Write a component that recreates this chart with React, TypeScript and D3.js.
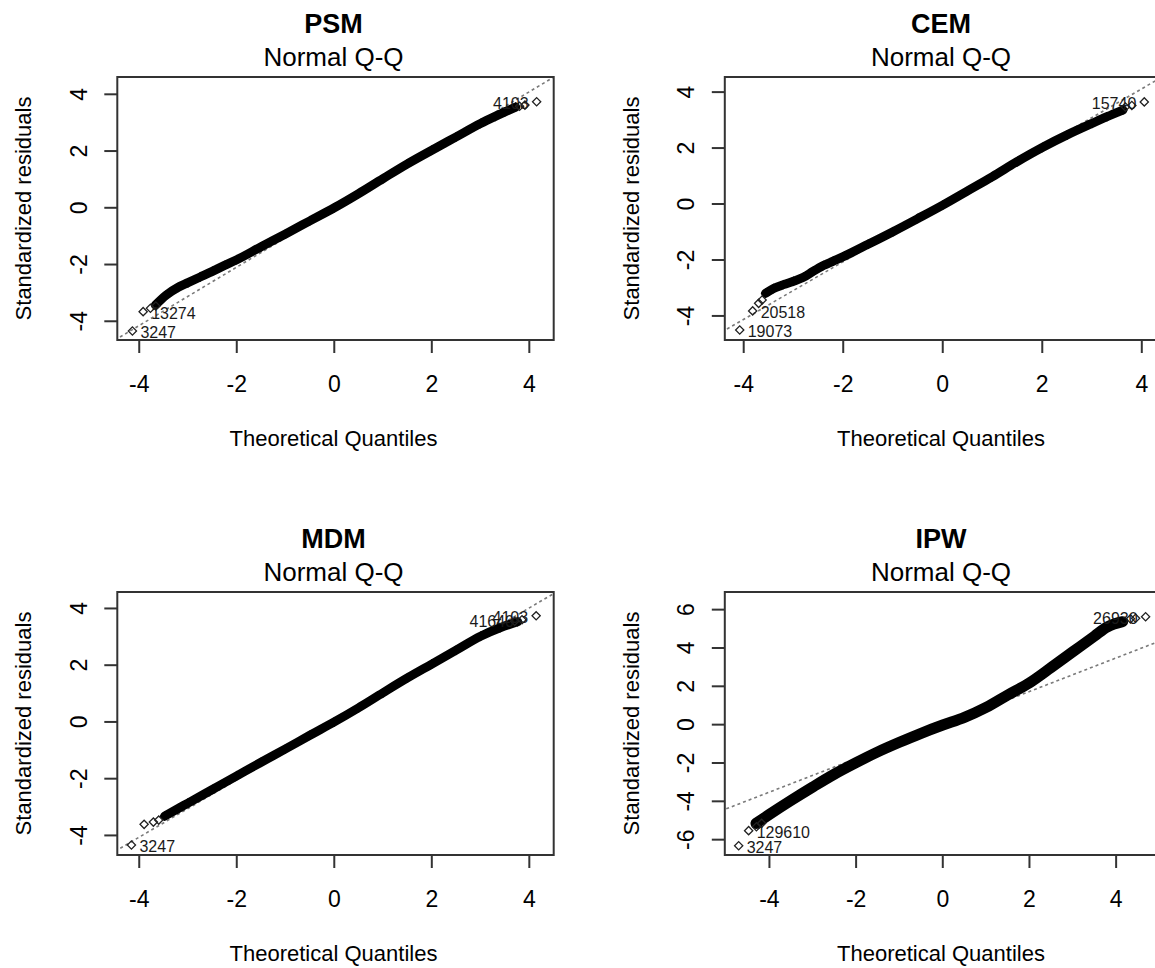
import React from "react";
import * as d3 from "d3";

// ---------------- data ----------------
const panelTitles = ["PSM", "CEM", "MDM", "IPW"];
const captionText = "Normal Q-Q";
const xLabelText = "Theoretical Quantiles";
const yLabelText = "Standardized residuals";
const xTickValues = [-4, -2, 0, 2, 4];
const yTicksStd = [-4, -2, 0, 2, 4];
const yTicksIPW = [-6, -4, -2, 0, 2, 4, 6];

// bulk of the residuals (dense band), theoretical quantile vs standardized residual
const psmTheo = [-3.67, -3.45, -3.2, -3.0, -2.75, -2.5, -2.25, -2.0, -1.5, -1.0, -0.5, 0, 0.5, 1.0, 1.5, 2.0, 2.5, 3.0, 3.3, 3.5, 3.72];
const psmResid = [-3.43, -3.08, -2.8, -2.64, -2.44, -2.24, -2.03, -1.83, -1.37, -0.92, -0.46, 0.0, 0.5, 1.03, 1.55, 2.03, 2.5, 2.97, 3.22, 3.38, 3.55];

const cemTheo = [-3.56, -3.4, -3.2, -3.0, -2.8, -2.6, -2.4, -2.2, -2.0, -1.5, -1.0, -0.5, 0, 0.5, 1.0, 1.5, 2.0, 2.5, 3.0, 3.3, 3.62];
const cemResid = [-3.19, -3.02, -2.88, -2.76, -2.62, -2.4, -2.2, -2.04, -1.88, -1.44, -0.99, -0.52, -0.04, 0.47, 0.98, 1.52, 2.02, 2.47, 2.88, 3.12, 3.36];

const mdmTheo = [-3.48, -3.2, -3.0, -2.5, -2.0, -1.5, -1.0, -0.5, 0, 0.5, 1.0, 1.5, 2.0, 2.5, 3.0, 3.4, 3.76];
const mdmResid = [-3.32, -3.05, -2.86, -2.38, -1.9, -1.42, -0.95, -0.47, 0.0, 0.5, 1.03, 1.55, 2.04, 2.53, 3.02, 3.32, 3.53];

const ipwTheo = [-4.31, -4.0, -3.5, -3.0, -2.5, -2.0, -1.5, -1.0, -0.5, 0, 0.5, 1.0, 1.5, 2.0, 2.5, 3.0, 3.5, 3.8, 4.15];
const ipwResid = [-5.15, -4.68, -3.95, -3.25, -2.58, -1.98, -1.42, -0.92, -0.45, -0.02, 0.38, 0.9, 1.55, 2.18, 2.98, 3.8, 4.62, 5.1, 5.37];

// separately visible tail points
const psmTailTheo = [-3.77, -3.66, 3.8, 3.91];
const psmTailResid = [-3.54, -3.46, 3.58, 3.62];
const cemTailTheo = [-3.7, -3.63, 3.67, 3.8];
const cemTailResid = [-3.55, -3.43, 3.47, 3.52];
const mdmTailTheo = [-3.9, -3.71, -3.6, 3.7];
const mdmTailResid = [-3.61, -3.53, -3.46, 3.55];
const ipwTailTheo = [-4.3, -4.18, 4.33, 4.45];
const ipwTailResid = [-5.33, -5.15, 5.52, 5.55];

// labelled extreme observations
const psmIdTheo = [-4.14, -3.92, 4.15];
const psmIdResid = [-4.34, -3.66, 3.74];
const psmIdText = ["3247", "13274", "4103"];
const cemIdTheo = [-4.08, -3.82, 4.05];
const cemIdResid = [-4.5, -3.82, 3.65];
const cemIdText = ["19073", "20518", "15740"];
const mdmIdTheo = [-4.16, 3.85, 4.14];
const mdmIdResid = [-4.34, 3.6, 3.74];
const mdmIdText = ["3247", "41640", "4103"];
const ipwIdTheo = [-4.71, -4.48, 4.68];
const ipwIdResid = [-6.32, -5.53, 5.63];
const ipwIdText = ["3247", "129610", "26930"];

// reference (qqline) slope / intercept
const qqSlopes = [1.03, 1.03, 1.01, 0.875];
const qqIntercepts = [-0.03, 0.0, -0.02, -0.02];

// ---------------- layout ----------------
const FONT = "'Liberation Sans', Arial, Helvetica, sans-serif";
const boxW = 436.4;
const boxH = 263;
const panels = [
  { left: 117.3, top: 77, xDomain: [-4.45, 4.5], yDomain: [-4.66, 4.61], yTicks: yTicksStd, band: 9,
    theo: psmTheo, resid: psmResid, tailT: psmTailTheo, tailR: psmTailResid, idT: psmIdTheo, idR: psmIdResid, idS: psmIdText },
  { left: 724.8, top: 77, xDomain: [-4.38, 4.39], yDomain: [-4.86, 4.54], yTicks: yTicksStd, band: 9,
    theo: cemTheo, resid: cemResid, tailT: cemTailTheo, tailR: cemTailResid, idT: cemIdTheo, idR: cemIdResid, idS: cemIdText },
  { left: 117.3, top: 592, xDomain: [-4.45, 4.5], yDomain: [-4.69, 4.58], yTicks: yTicksStd, band: 9,
    theo: mdmTheo, resid: mdmResid, tailT: mdmTailTheo, tailR: mdmTailResid, idT: mdmIdTheo, idR: mdmIdResid, idS: mdmIdText },
  { left: 724.8, top: 592, xDomain: [-5.03, 5.04], yDomain: [-6.8, 6.92], yTicks: yTicksIPW, band: 11,
    theo: ipwTheo, resid: ipwResid, tailT: ipwTailTheo, tailR: ipwTailResid, idT: ipwIdTheo, idR: ipwIdResid, idS: ipwIdText },
];

const diamondPath = d3.symbol(d3.symbolSquare, 34)() as string;

function Panel({ p, i }: { p: any; i: number }) {
  const x = d3.scaleLinear().domain(p.xDomain).range([p.left, p.left + boxW]);
  const y = d3.scaleLinear().domain(p.yDomain).range([p.top + boxH, p.top]);
  const bottom = p.top + boxH;
  const cx = p.left + boxW / 2 - 2;
  const clipId = `clip-${i}`;
  const pts = p.theo.map((t: number, k: number) => [t, p.resid[k]] as [number, number]);
  const band = d3
    .line<[number, number]>()
    .x((d) => x(d[0]))
    .y((d) => y(d[1]))
    .curve(d3.curveMonotoneX)(pts) as string;
  const x0 = p.xDomain[0] - 1;
  const x1 = p.xDomain[1] + 1;
  const slope = qqSlopes[i];
  const icpt = qqIntercepts[i];
  const tails = p.tailT.map((t: number, k: number) => [t, p.tailR[k]]);
  const ids = p.idT.map((t: number, k: number) => ({ t, r: p.idR[k], s: p.idS[k] }));
  const meanT = d3.mean(p.theo) as number;

  return (
    <g>
      <defs>
        <clipPath id={clipId}>
          <rect x={p.left} y={p.top} width={boxW} height={boxH} />
        </clipPath>
      </defs>
      <g clipPath={`url(#${clipId})`}>
        <line
          x1={x(x0)}
          y1={y(icpt + slope * x0)}
          x2={x(x1)}
          y2={y(icpt + slope * x1)}
          stroke="#7a7a7a"
          strokeWidth={1.6}
          strokeDasharray="3,3"
        />
        <path d={band} fill="none" stroke="#000" strokeWidth={p.band} strokeLinecap="round" strokeLinejoin="round" />
        {pts.map((d: [number, number], k: number) => (
          <path key={`b${k}`} d={diamondPath} transform={`translate(${x(d[0])},${y(d[1])}) rotate(45)`} fill="none" stroke="#000" strokeWidth={1.2} />
        ))}
        {tails.map((d: number[], k: number) => (
          <path key={`t${k}`} d={diamondPath} transform={`translate(${x(d[0])},${y(d[1])}) rotate(45)`} fill="none" stroke="#222" strokeWidth={1.3} />
        ))}
        {ids.map((d: any, k: number) => (
          <path key={`i${k}`} d={diamondPath} transform={`translate(${x(d.t)},${y(d.r)}) rotate(45)`} fill="none" stroke="#222" strokeWidth={1.3} />
        ))}
      </g>
      {ids.map((d: any, k: number) => {
        const right = d.t < meanT;
        return (
          <text
            key={`l${k}`}
            x={x(d.t) + (right ? 8 : -8)}
            y={y(d.r) + 1.5}
            textAnchor={right ? "start" : "end"}
            dominantBaseline="central"
            fontSize={16}
            fill="#1a1a1a"
            fontFamily={FONT}
          >
            {d.s}
          </text>
        );
      })}
      <rect x={p.left} y={p.top} width={boxW} height={boxH} fill="none" stroke="#333" strokeWidth={2} />
      {xTickValues.map((t) => (
        <g key={`xt${t}`}>
          <line x1={x(t)} x2={x(t)} y1={bottom} y2={bottom + 13} stroke="#333" strokeWidth={2} />
          <text x={x(t)} y={bottom + 51.7} textAnchor="middle" fontSize={23} fill="#000" fontFamily={FONT}>
            {String(t)}
          </text>
        </g>
      ))}
      {p.yTicks.map((t: number) => (
        <g key={`yt${t}`}>
          <line x1={p.left - 13} x2={p.left} y1={y(t)} y2={y(t)} stroke="#333" strokeWidth={2} />
          <text
            transform={`translate(${p.left - 30.8},${y(t)}) rotate(-90)`}
            textAnchor="middle"
            fontSize={23}
            fill="#000"
            fontFamily={FONT}
          >
            {String(t)}
          </text>
        </g>
      ))}
      <text x={cx} y={p.top - 44} textAnchor="middle" fontSize={27} fontWeight="bold" fill="#000" fontFamily={FONT}>
        {panelTitles[i]}
      </text>
      <text x={cx} y={p.top - 11} textAnchor="middle" fontSize={26} fill="#000" fontFamily={FONT}>
        {captionText}
      </text>
      <text x={cx} y={bottom + 105.5} textAnchor="middle" fontSize={22} fill="#000" fontFamily={FONT}>
        {xLabelText}
      </text>
      <text
        transform={`translate(${p.left - 86},${p.top + boxH / 2}) rotate(-90)`}
        textAnchor="middle"
        fontSize={22}
        fill="#000"
        fontFamily={FONT}
      >
        {yLabelText}
      </text>
    </g>
  );
}

export default function App() {
  return (
    <div style={{ width: 1155, height: 968, overflow: "hidden" }}>
      <style>{`html,body{margin:0;padding:0;background:#fff;}`}</style>
      <svg width={1155} height={968} viewBox="0 0 1155 968" style={{ display: "block", background: "#fff" }}>
        {panels.map((p, i) => (
          <Panel key={i} p={p} i={i} />
        ))}
      </svg>
    </div>
  );
}
